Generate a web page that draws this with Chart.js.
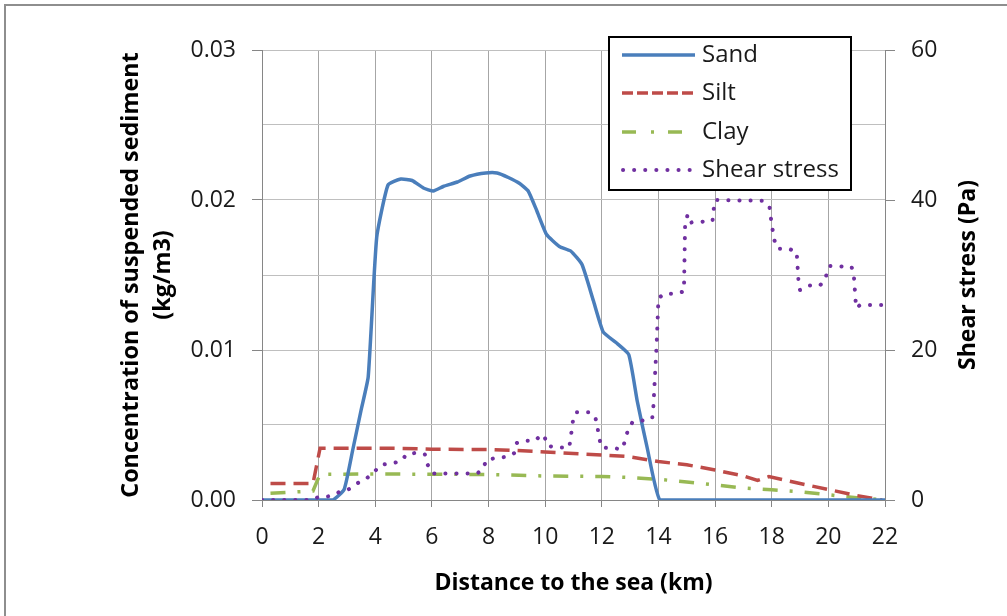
<!DOCTYPE html>
<html>
<head>
<meta charset="utf-8">
<script src="https://cdn.jsdelivr.net/npm/chart.js@4.4.1/dist/chart.umd.min.js"></script>
<style>
  html, body { margin: 0; padding: 0; background: #ffffff; overflow: hidden; }
  #wrap { position: relative; width: 1007px; height: 616px; }
  #frame { position: absolute; left: 4px; top: 4px; width: 1100px; height: 700px;
           border-left: 2px solid #8e8e8e; border-top: 2px solid #8e8e8e; }
  canvas { position: absolute; left: 0; top: 0; }
</style>
</head>
<body>
<div id="wrap">
  <div id="frame"></div>
  <canvas id="c" width="1007" height="616"></canvas>
</div>
<script>
// ---- data ----
const xTicksMax = 22;
const leftAxisMax = 0.03;
const rightAxisMax = 60;

const sandKm   = [0,0.5,1,1.5,2,2.5,2.9,3.2,3.5,3.75,4.05,4.45,4.9,5.3,5.7,6.05,6.4,6.9,7.35,7.9,8.3,8.7,9.1,9.4,9.7,10.05,10.5,10.9,11.3,11.7,12.05,12.5,12.95,13.25,13.6,14.05,15,16,17,18,19,20,21,22];
const sandConc = [0,0,0,0,0,0,0.0007,0.0033,0.006,0.0082,0.0175,0.021,0.0214,0.0213,0.0208,0.0206,0.0209,0.0212,0.0216,0.0218,0.0218,0.0215,0.0211,0.0206,0.0193,0.0177,0.0169,0.0166,0.0157,0.0133,0.0112,0.0105,0.0097,0.0066,0.0035,0,0,0,0,0,0,0,0,0];

const siltKm   = [0.3,1.8,2.05,4,5,6,8,9,10,11,12,12.9,14,15,16,17,17.5,17.9,19,20,21,21.9];
const siltConc = [0.0011,0.0011,0.00345,0.00345,0.00344,0.00338,0.00337,0.0033,0.0032,0.0031,0.003,0.0029,0.00256,0.00235,0.002,0.0016,0.0013,0.00156,0.0011,0.0007,0.0003,0];

const clayKm   = [0.3,1.8,2.05,4,6,8,10,12,13,14,15,16,17,18,19,20,21,22];
const clayConc = [0.00045,0.0006,0.00172,0.00173,0.00172,0.0017,0.0016,0.00157,0.0015,0.00138,0.0012,0.001,0.0008,0.00068,0.00055,0.00035,0.00015,0];

const shearKm = [0,1.7,2.0,2.4,2.75,3.05,3.35,3.67,3.95,4.2,4.6,4.93,5.1,5.46,5.75,5.85,6.03,7.6,7.8,7.93,8.7,8.93,9.0,9.25,9.64,9.88,9.97,10.09,10.47,10.85,10.96,11.0,11.11,11.52,11.76,11.84,11.9,11.99,12.72,12.84,12.93,13.09,13.46,13.78,13.82,13.94,14.0,14.2,14.58,14.9,14.94,15.03,15.17,15.91,15.94,16.0,17.67,17.92,17.97,18.08,18.2,18.59,18.88,18.95,19.0,19.33,19.7,19.9,19.97,20.06,20.82,20.9,20.98,21.12,22];
const shearPa = [0,0,0.4,0.5,1.1,1.4,2.2,2.8,3.7,4.7,4.9,5.2,6.1,6.3,6.1,4.7,3.55,3.55,4.1,5.4,5.8,6.3,7.6,7.9,7.9,8.75,8.5,7.2,7.0,7.0,9.9,11.2,11.7,11.7,11.2,9.9,8.4,7.0,6.8,8.1,9.5,10.4,10.6,10.9,12.4,21.1,26.9,27.5,27.5,27.8,36.4,38.1,37.0,37.2,38.5,40,39.9,39.1,37.6,34.8,33.5,33.5,33.1,28.9,28.0,28.6,28.6,29.4,30.9,31.2,31.1,29.9,25.6,26.0,26.0];

const seriesNames = ['Sand', 'Silt', 'Clay', 'Shear stress'];
const leftTitle = ['Concentration of suspended sediment', '(kg/m3)'];
const rightTitle = 'Shear stress (Pa)';
const xTitle = 'Distance to the sea (km)';

const toXY = (xs, ys) => xs.map((x, i) => ({ x: x, y: ys[i] }));

// ---- layout constants ----
const FONT = '"Open Sans", Lato, "DejaVu Sans", sans-serif';
const AREA = { left: 262, right: 885, top: 50, bottom: 500 };
const PAD = { left: 115, right: 20, top: 50, bottom: 19 };
const AXIS = '#868686';
const TXT = '#1a1a1a';

const legendPlugin = {
  id: 'boxLegend',
  afterDraw(chart) {
    const ctx = chart.ctx;
    const box = { x: 609, y: 37, w: 242, h: 153 };
    ctx.save();
    ctx.fillStyle = '#ffffff';
    ctx.fillRect(box.x, box.y, box.w, box.h);
    ctx.lineWidth = 2;
    ctx.strokeStyle = '#000000';
    ctx.strokeRect(box.x, box.y, box.w, box.h);
    const rows = [55, 93, 132, 170];
    const legendDash = [[], [11, 4], [14, 15, 3, 14], [0.1, 11]];
    chart.data.datasets.forEach((ds, i) => {
      const y = rows[i];
      ctx.save();
      ctx.strokeStyle = ds.borderColor;
      ctx.lineWidth = ds.borderWidth;
      ctx.lineCap = ds.borderCapStyle || 'butt';
      ctx.setLineDash(legendDash[i]);
      ctx.beginPath();
      ctx.moveTo(i === 3 ? 623 : 622, y);
      ctx.lineTo(695, y);
      ctx.stroke();
      ctx.restore();
      ctx.fillStyle = TXT;
      ctx.font = '24px ' + FONT;
      ctx.textBaseline = 'middle';
      ctx.textAlign = 'left';
      ctx.fillText(ds.label, 702, y);
    });
    ctx.restore();
  }
};

const rightTitlePlugin = {
  id: 'rightTitle',
  afterDraw(chart) {
    const ctx = chart.ctx;
    const a = chart.chartArea;
    ctx.save();
    ctx.translate(968, (a.top + a.bottom) / 2);
    ctx.rotate(-Math.PI / 2);
    ctx.font = 'bold 23px ' + FONT;
    ctx.fillStyle = '#000000';
    ctx.textAlign = 'center';
    ctx.textBaseline = 'middle';
    ctx.fillText(rightTitle, 0, 0);
    ctx.restore();
  }
};

new Chart(document.getElementById('c'), {
  type: 'line',
  data: {
    datasets: [
      { label: seriesNames[0], data: toXY(sandKm, sandConc), yAxisID: 'y',
        borderColor: '#4a7ebb', borderWidth: 3.5, pointRadius: 0, tension: 0.15, order: 1 },
      { label: seriesNames[1], data: toXY(siltKm, siltConc), yAxisID: 'y',
        borderColor: '#be4b48', borderWidth: 3.5, borderDash: [15, 8], pointRadius: 0, tension: 0, order: 2 },
      { label: seriesNames[2], data: toXY(clayKm, clayConc), yAxisID: 'y',
        borderColor: '#98b954', borderWidth: 3.5, borderDash: [15, 12, 3, 12], pointRadius: 0, tension: 0, order: 3 },
      { label: seriesNames[3], data: toXY(shearKm, shearPa), yAxisID: 'y2',
        borderColor: '#7030a0', borderWidth: 4, borderDash: [0.1, 11], borderCapStyle: 'round',
        pointRadius: 0, tension: 0, order: 0 }
    ]
  },
  options: {
    responsive: false,
    animation: false,
    devicePixelRatio: 1,
    layout: { padding: PAD },
    plugins: { legend: { display: false }, tooltip: { enabled: false } },
    scales: {
      x: {
        type: 'linear', min: 0, max: xTicksMax,
        ticks: { stepSize: 2, color: TXT, font: { family: FONT, size: 23 }, padding: 17, maxRotation: 0 },
        grid: { color: '#a6a6a6', tickColor: AXIS, tickLength: 7, lineWidth: 1 },
        border: { color: AXIS, width: 1 },
        title: { display: true, text: xTitle, color: '#000', font: { family: FONT, size: 23, weight: 'bold' }, padding: { top: 0, bottom: 0 } },
        afterFit(s) { s.height = 616 - AREA.bottom - PAD.bottom; }
      },
      y: {
        position: 'left', min: 0, max: leftAxisMax,
        ticks: { stepSize: 0.005, color: TXT, font: { family: FONT, size: 23 }, padding: 16,
                 callback: (v, i) => (i % 2 === 0 ? v.toFixed(2) : '') },
        grid: { color: '#bfbfbf', lineWidth: 1, tickLength: 10,
                tickColor: (c) => (c.index % 2 === 0 ? AXIS : 'rgba(0,0,0,0)') },
        border: { color: AXIS, width: 1 },
        title: { display: true, text: leftTitle, color: '#000', font: { family: FONT, size: 23.4, weight: 'bold', lineHeight: 1.38 }, padding: 0 },
        afterFit(s) { s.width = AREA.left - PAD.left; }
      },
      y2: {
        position: 'right', min: 0, max: rightAxisMax,
        ticks: { stepSize: 10, color: TXT, font: { family: FONT, size: 23 }, padding: 16,
                 callback: (v, i) => (i % 2 === 0 ? String(v) : '') },
        grid: { drawOnChartArea: false, tickLength: 10,
                tickColor: (c) => (c.index % 2 === 0 ? AXIS : 'rgba(0,0,0,0)') },
        border: { color: AXIS, width: 1 },
        afterFit(s) { s.width = 1007 - AREA.right - PAD.right; }
      }
    }
  },
  plugins: [legendPlugin, rightTitlePlugin]
});
</script>
</body>
</html>
